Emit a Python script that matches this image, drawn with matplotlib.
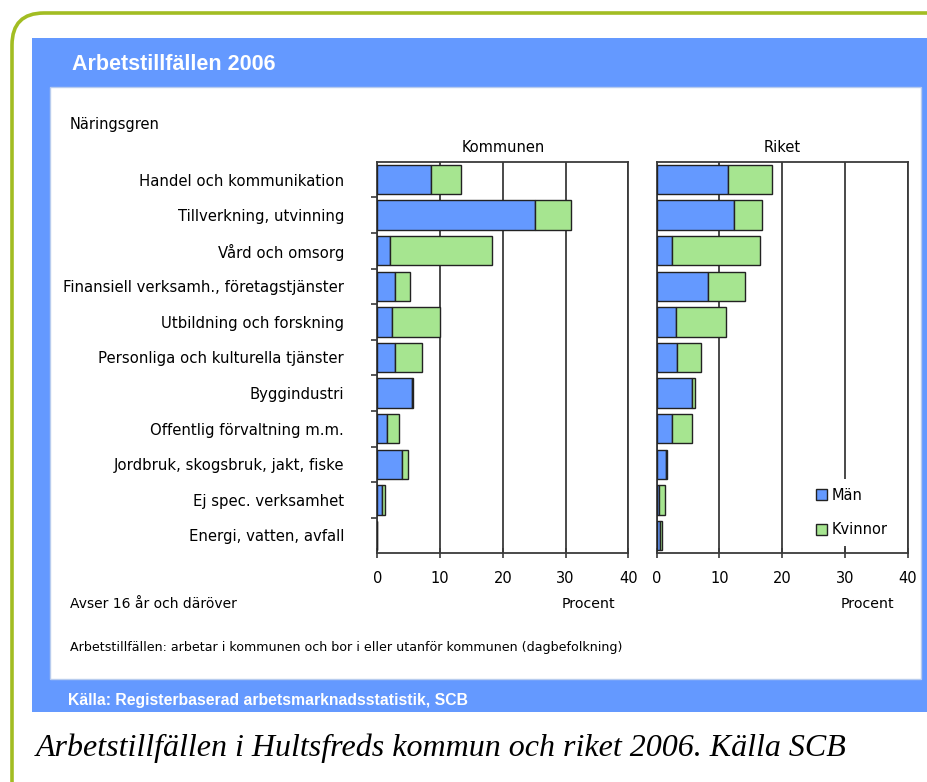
import matplotlib
matplotlib.use("Agg")
import matplotlib.pyplot as plt
from matplotlib.patches import FancyBboxPatch, Rectangle, Patch

# Industry branches, top to bottom
branches = [
    "Handel och kommunikation",
    "Tillverkning, utvinning",
    "Vård och omsorg",
    "Finansiell verksamh., företagstjänster",
    "Utbildning och forskning",
    "Personliga och kulturella tjänster",
    "Byggindustri",
    "Offentlig förvaltning m.m.",
    "Jordbruk, skogsbruk, jakt, fiske",
    "Ej spec. verksamhet",
    "Energi, vatten, avfall",
]

# Share of jobs (procent)
kommun_man = [8.6, 25.1, 2.1, 2.8, 2.3, 2.8, 5.5, 1.6, 4.0, 0.7, 0.0]
kommun_kvinnor = [4.7, 5.8, 16.2, 2.4, 7.7, 4.3, 0.2, 1.8, 0.9, 0.6, 0.0]
riket_man = [11.3, 12.3, 2.5, 8.2, 3.0, 3.2, 5.6, 2.5, 1.5, 0.4, 0.6]
riket_kvinnor = [7.1, 4.5, 13.9, 5.8, 8.0, 3.9, 0.5, 3.1, 0.2, 0.9, 0.2]

panel_titles = ["Kommunen", "Riket"]
xticks = [0, 10, 20, 30, 40]

W, H = 927, 782
BLUE = "#6499ff"
GREEN = "#a6e590"
FRAME_GREEN = "#a2bd22"
DARK = "#3a3a3a"

fig = plt.figure(figsize=(W / 100, H / 100), dpi=100)
fig.patch.set_facecolor("white")


def fx(px):
    return px / W


def fy(py):
    return 1 - py / H


# --- decorative frame, drawn in pixel units on a full-figure axes ---
bg = fig.add_axes([0, 0, 1, 1], zorder=-5)
bg.set_xlim(0, W)
bg.set_ylim(H, 0)
bg.axis("off")
bg.add_patch(FancyBboxPatch((12, 13), 960, 800,
                            boxstyle="round,pad=0,rounding_size=32",
                            facecolor="white", edgecolor=FRAME_GREEN, lw=2.6))
bg.add_patch(Rectangle((32, 38), 900, 674, facecolor=BLUE, edgecolor="none"))
bg.add_patch(Rectangle((50, 87), 871, 592, facecolor="white",
                       edgecolor="#b8ccee", lw=1))

fig.text(fx(72), fy(65), "Arbetstillfällen 2006", color="white",
         fontsize=15.5, fontweight="bold", family="Liberation Sans",
         va="center", ha="left")
fig.text(fx(68), fy(701), "Källa: Registerbaserad arbetsmarknadsstatistik, SCB",
         color="white", fontsize=11.3, fontweight="bold",
         family="Liberation Sans", va="center", ha="left")
fig.text(fx(36), fy(748),
         "Arbetstillfällen i Hultsfreds kommun och riket 2006. Källa SCB",
         fontsize=23, style="italic", family="Liberation Serif",
         va="center", ha="left")

fig.text(fx(70), fy(124), "Näringsgren", fontsize=10.5, va="center")
fig.text(fx(70), fy(604), "Avser 16 år och däröver", fontsize=10, va="center")
fig.text(fx(70), fy(647),
         "Arbetstillfällen: arbetar i kommunen och bor i eller utanför kommunen (dagbefolkning)",
         fontsize=9.1, va="center")

# --- the two bar panels ---
ax_top, ax_bot = 161.7, 553.3
lefts = [377.3, 656.7]
axw = 251.0
data = [(kommun_man, kommun_kvinnor), (riket_man, riket_kvinnor)]
ypos = list(range(len(branches)))

for i, (left, (man, kv)) in enumerate(zip(lefts, data)):
    ax = fig.add_axes([fx(left), fy(ax_bot), axw / W, (ax_bot - ax_top) / H])
    ax.barh(ypos, man, height=0.83, color=BLUE, edgecolor="#222222",
            lw=1.0, zorder=3, label="Män")
    ax.barh(ypos, kv, left=man, height=0.83, color=GREEN, edgecolor="#222222",
            lw=1.0, zorder=3, label="Kvinnor")
    ax.set_xlim(0, 40)
    ax.set_ylim(len(branches) - 0.5, -0.5)
    ax.set_xticks(xticks)
    ax.set_xticklabels([str(t) for t in xticks], fontsize=10.5)
    ax.tick_params(axis="x", direction="inout", length=7, width=1.2,
                   color=DARK, pad=9)
    ax.grid(axis="x", color=DARK, lw=1.3, zorder=1)
    for s in ax.spines.values():
        s.set_color(DARK)
        s.set_linewidth(1.3)
    ax.set_title(panel_titles[i], fontsize=10.5, pad=7)
    if i == 0:
        ax.set_yticks(ypos)
        ax.set_yticklabels(branches, fontsize=10.7)
        ax.set_yticks([y + 0.5 for y in ypos[:-1]], minor=True)
        ax.tick_params(axis="y", which="major", length=0, pad=24)
        ax.tick_params(axis="y", which="minor", length=4, width=1.2,
                       color=DARK)
    else:
        ax.set_yticks([])
        handles = [Patch(facecolor=BLUE, edgecolor="#222222", label="Män"),
                   Patch(facecolor=GREEN, edgecolor="#222222", label="Kvinnor")]
        leg = ax.legend(handles=handles, loc="lower left",
                        bbox_to_anchor=(0.57, 0.0), fontsize=10.5,
                        frameon=True, facecolor="white", edgecolor="none",
                        framealpha=1, fancybox=False, handlelength=0.8,
                        handleheight=0.8, handletextpad=0.3,
                        labelspacing=1.35, borderpad=0.6)
        leg.set_zorder(5)
    fig.text(fx(left + axw - 13), fy(604), "Procent", fontsize=10.2,
             ha="right", va="center")

fig.savefig("out.png", dpi=100)
